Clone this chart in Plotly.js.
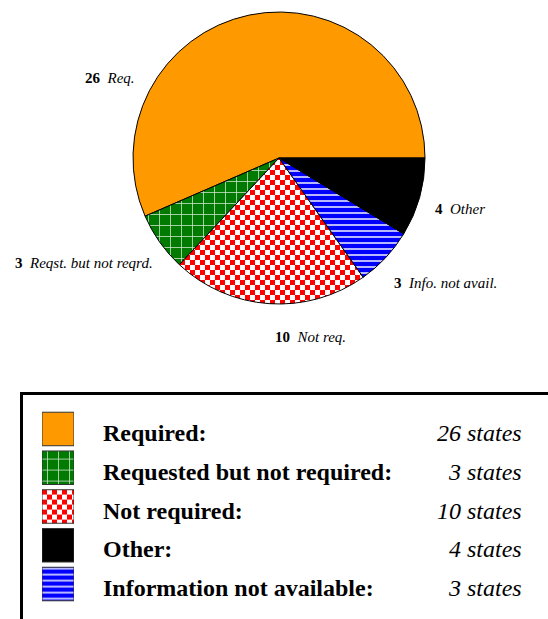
<!DOCTYPE html>
<html>
<head>
<meta charset="utf-8">
<script src="https://cdn.plot.ly/plotly-3.0.1.min.js"></script>
<style>html,body{margin:0;padding:0;background:#fff;}#chart{width:548px;height:619px;}</style>
</head>
<body>
<div id="chart"></div>
<script>
// ---- data ----
const pieLabels = ['Required', 'Requested but not required', 'Not required', 'Information not available', 'Other'];
const pieValues = [26, 3, 10, 3, 4];
const pieShort = ['Req.', 'Reqst. but not reqrd.', 'Not req.', 'Info. not avail.', 'Other'];

const legendLabels = ['Required:', 'Requested but not required:', 'Not required:', 'Other:', 'Information not available:'];
const legendValues = [26, 3, 10, 4, 3];
const legendUnit = 'states';

// ---- styles ----
const W = 548, H = 619;
const styleByLabel = {
  'Required':                   {color: '#ff9900', shape: '',  size: 8,  sol: 0.3},
  'Requested but not required': {color: '#007a00', shape: '+', size: 11, sol: 0.14},
  'Not required':               {color: '#ff0000', shape: '.', size: 10, sol: 0.5},
  'Information not available':  {color: '#0000ff', shape: '-', size: 6,  sol: 0.3},
  'Other':                      {color: '#000000', shape: '',  size: 8,  sol: 0.3}
};
const legendKeys = ['Required', 'Requested but not required', 'Not required', 'Other', 'Information not available'];

function patt(keys) {
  return {
    fillmode: 'overlay',
    fgopacity: 0.8,
    shape: keys.map(k => styleByLabel[k].shape),
    size: keys.map(k => styleByLabel[k].size),
    solidity: keys.map(k => styleByLabel[k].sol)
  };
}

const px = x => x / W;
const py = y => 1 - y / H;

// pie geometry (px)
const cx = 279, cy = 158, R = 146;
const total = pieValues.reduce((a, b) => a + b, 0);

const pie = {
  type: 'pie',
  labels: pieLabels,
  values: pieValues,
  sort: false,
  direction: 'counterclockwise',
  // first slice ends at 3 o'clock and the rest continue counterclockwise
  rotation: 90 + 360 - 360 * pieValues[0] / total,
  textinfo: 'none',
  hoverinfo: 'label+value',
  showlegend: false,
  marker: {
    colors: pieLabels.map(k => styleByLabel[k].color),
    line: {color: '#000', width: 1},
    pattern: patt(pieLabels)
  },
  domain: {x: [px(cx - R), px(cx + R)], y: [py(cy + R), py(cy - R)]}
};

const swatch = {
  type: 'bar',
  orientation: 'h',
  y: legendLabels,
  x: legendLabels.map(() => 1),
  xaxis: 'x2',
  yaxis: 'y2',
  showlegend: false,
  hoverinfo: 'skip',
  marker: {
    color: legendKeys.map(k => styleByLabel[k].color),
    line: {color: '#333', width: 1},
    pattern: patt(legendKeys)
  }
};

// pie label positions (px): left x, middle y
const labelPos = [[83, 78], [13, 263], [273, 337], [392, 283], [433, 209]];
const annotations = [];
pieShort.forEach((s, i) => {
  annotations.push({
    xref: 'paper', yref: 'paper',
    x: px(labelPos[i][0]), y: py(labelPos[i][1]),
    xanchor: 'left', yanchor: 'middle', showarrow: false,
    text: '<b>' + pieValues[i] + '</b>\u00a0\u00a0<i>' + s + '</i>',
    font: {family: 'Liberation Serif', size: 15, color: '#000'}
  });
});
legendLabels.forEach((l, i) => {
  annotations.push({
    xref: 'paper', yref: 'y2', x: px(101), y: l, yshift: -4,
    xanchor: 'left', yanchor: 'middle', showarrow: false,
    text: '<b>' + l + '</b>',
    font: {family: 'Liberation Serif', size: 24, color: '#000'}
  });
  annotations.push({
    xref: 'paper', yref: 'y2', x: px(524), y: l, yshift: -4,
    xanchor: 'right', yanchor: 'middle', showarrow: false,
    text: '<i>' + legendValues[i] + ' ' + legendUnit + '</i>',
    font: {family: 'Liberation Serif', size: 24, color: '#000'}
  });
});

const layout = {
  width: W, height: H,
  margin: {l: 0, r: 0, t: 0, b: 0},
  paper_bgcolor: '#fff', plot_bgcolor: '#fff',
  showlegend: false,
  bargap: 0.135,
  xaxis2: {domain: [px(42), px(74)], range: [0, 1], visible: false, fixedrange: true},
  yaxis2: {domain: [py(603.4), py(409.6)], autorange: 'reversed', visible: false, fixedrange: true, anchor: 'x2'},
  annotations: annotations,
  shapes: [{
    type: 'rect', xref: 'paper', yref: 'paper',
    x0: px(21.5), x1: px(570), y0: py(393.5), y1: py(640),
    line: {color: '#000', width: 3}, fillcolor: 'rgba(0,0,0,0)'
  }]
};

Plotly.newPlot('chart', [pie, swatch], layout, {displayModeBar: false, staticPlot: true}).then(function () {
  // turn the dotted fill tile of "Not required" into a checkerboard tile
  const NS = 'http://www.w3.org/2000/svg';
  const s = styleByLabel['Not required'].size, h = s / 2;
  document.querySelectorAll('#chart pattern').forEach(function (p) {
    if (!p.querySelector('circle')) return;
    while (p.firstChild) p.removeChild(p.firstChild);
    p.setAttribute('patternUnits', 'userSpaceOnUse');
    p.setAttribute('width', s); p.setAttribute('height', s);
    [[0, 0, s, s, '#ffffff'], [0, 0, h, h, '#ff0000'], [h, h, h, h, '#ff0000']].forEach(function (r) {
      const e = document.createElementNS(NS, 'rect');
      e.setAttribute('x', r[0]); e.setAttribute('y', r[1]);
      e.setAttribute('width', r[2]); e.setAttribute('height', r[3]);
      e.setAttribute('fill', r[4]);
      p.appendChild(e);
    });
  });
});
</script>
</body>
</html>
